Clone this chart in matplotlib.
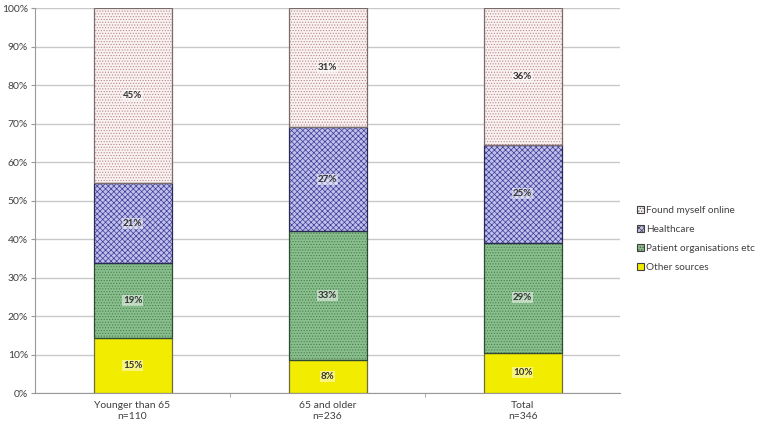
import matplotlib
matplotlib.use('Agg')
import matplotlib.pyplot as plt
import numpy as np

plt.rcParams['font.family'] = ['Lato', 'DejaVu Sans']
plt.rcParams['hatch.linewidth'] = 0.5

# Data (bar segment heights, %)
groups = ['Younger than 65\nn=110', '65 and older\nn=236', 'Total\nn=346']
other_sources = [14.4, 8.5, 10.5]
patient_orgs = [19.3, 33.5, 28.5]
healthcare = [20.8, 27.0, 25.5]
found_online = [45.5, 31.0, 35.5]

# Labels as printed on the bars
other_lbl = ['15%', '8%', '10%']
patient_lbl = ['19%', '33%', '29%']
health_lbl = ['21%', '27%', '25%']
online_lbl = ['45%', '31%', '36%']

series = [
    ('Other sources', other_sources, other_lbl, '#f2ec00', '#8a8a40', None, '#6e6e3a'),
    ('Patient organisations etc', patient_orgs, patient_lbl, '#88bf8c', '#4d7d52', '......', '#2f4a33'),
    ('Healthcare', healthcare, health_lbl, '#c0c0ea', '#3c3c98', 'xxxxxx', '#2a2a55'),
    ('Found myself online', found_online, online_lbl, '#faf2f2', '#b88888', '......', '#7a6a6a'),
]

fig = plt.figure(figsize=(7.61, 4.25), dpi=100)
ax = fig.add_axes([0.046, 0.075, 0.769, 0.906])

x = np.arange(len(groups))
bottom = np.zeros(len(groups))
handles = []
for name, vals, lbls, fc, hc, hatch, oc in series:
    bars = ax.bar(x, vals, width=0.4, bottom=bottom, color=fc, edgecolor=hc,
                  hatch=hatch, linewidth=0, label=name, zorder=3)
    # outline
    ax.bar(x, vals, width=0.4, bottom=bottom, fill=False, edgecolor=oc,
           linewidth=0.9, zorder=3.5)
    for xi, b, v, lab in zip(x, bottom, vals, lbls):
        ax.text(xi, b + v / 2, lab, ha='center', va='center', fontsize=7,
                fontweight='bold', color='#333333', zorder=4,
                bbox=dict(boxstyle='square,pad=0.1', fc='white', ec='none', alpha=0.5))
    handles.append(bars)
    bottom = bottom + np.array(vals)

ax.set_xlim(-0.5, 2.5)
ax.set_ylim(0, 100)
ax.set_yticks(np.arange(0, 101, 10))
ax.set_yticklabels(['%d%%' % v for v in range(0, 101, 10)])
ax.set_xticks(x)
ax.set_xticklabels(groups)
ax.set_xticks([0.5, 1.5], minor=True)
ax.tick_params(axis='x', which='major', length=0, labelsize=7.5, labelcolor='#404040', pad=6)
ax.tick_params(axis='x', which='minor', length=3, color='#999999')
ax.tick_params(axis='y', length=3, color='#999999', labelsize=7.5, labelcolor='#404040', pad=2)
ax.yaxis.grid(True, color='#c8c8c8', linewidth=1, zorder=0)
for s in ['top', 'right']:
    ax.spines[s].set_visible(False)
ax.spines['left'].set_color('#999999')
ax.spines['bottom'].set_color('#999999')

leg = ax.legend(handles=handles[::-1], loc='center left', bbox_to_anchor=(1.018, 0.40),
                frameon=False, fontsize=7.2, handlelength=0.7, handleheight=0.7,
                handletextpad=0.2, labelspacing=1.0, borderaxespad=0.2)
for t in leg.get_texts():
    t.set_color('#404040')
for h in leg.legend_handles:
    h.set_linewidth(0.8)
    h.set_edgecolor('#404040')

plt.savefig('out.png', dpi=100)
